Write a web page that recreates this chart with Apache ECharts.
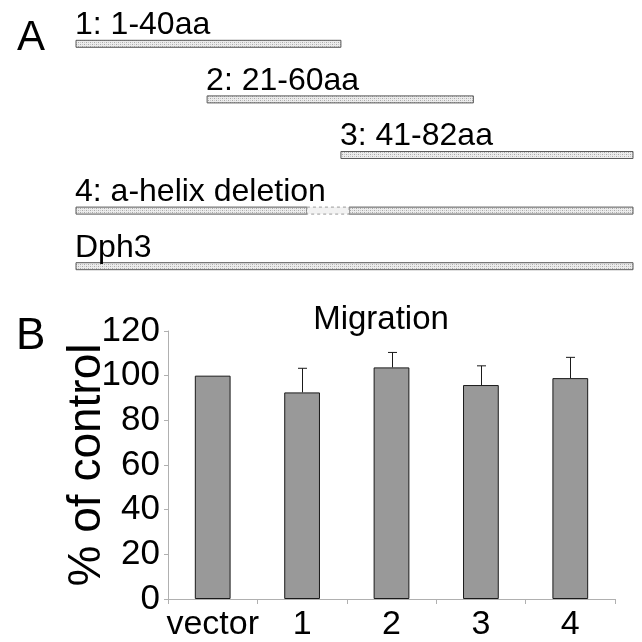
<!DOCTYPE html>
<html>
<head>
<meta charset="utf-8">
<script src="https://cdn.jsdelivr.net/npm/echarts@6/dist/echarts.min.js"></script>
<style>
  html, body { margin: 0; padding: 0; background: #fff; }
  #chart { width: 642px; height: 642px; }
</style>
</head>
<body>
<div id="chart"></div>
<script>
// Panel A: construct map (schematic residue units, 0..82)
const constructRows = ['1: 1-40aa', '2: 21-60aa', '3: 41-82aa', '4: a-helix deletion', 'Dph3'];
// [row, start, end] of drawn segments
const constructSegments = [
  [0, 0, 39],
  [1, 19.3, 58.5],
  [2, 39, 82],
  [3, 0, 34],
  [3, 40.2, 82],
  [4, 0, 82]
];
// deleted helix in construct 4 (drawn dashed)
const deletionSegments = [[3, 34, 40.2]];

// Panel B: migration
const categories = ['vector', '1', '2', '3', '4'];
const migration = [100, 92.5, 103.7, 95.8, 98.9];
const migrationErr = [0, 10.8, 6.7, 8.6, 9.3];
const yTicks = { min: 0, max: 120, interval: 20 };

const FONT = '"Liberation Sans", Arial, sans-serif';

// stipple fill for construct bars
const tile = document.createElement('canvas');
tile.width = 4; tile.height = 4;
(function () {
  const c = tile.getContext('2d');
  c.fillStyle = '#ececec';
  c.fillRect(0, 0, 4, 4);
  c.fillStyle = '#a8a8a8';
  c.fillRect(0, 0, 1, 1);
  c.fillRect(2, 2, 1, 1);
  c.fillStyle = '#c8c8c8';
  c.fillRect(2, 0, 1, 1);
  c.fillRect(0, 2, 1, 1);
})();
const stipple = { image: tile, repeat: 'repeat' };

const BAR_H = 7;

const chart = echarts.init(document.getElementById('chart'));

chart.setOption({
  animation: false,
  backgroundColor: '#fff',
  textStyle: { fontFamily: FONT },
  graphic: [
    { type: 'text', left: 17, top: 17, style: { text: 'A', font: '42px ' + FONT, fill: '#000' } },
    { type: 'text', left: 16, top: 315, style: { text: 'B', font: '44px ' + FONT, fill: '#000' } }
  ],
  title: {
    text: 'Migration',
    left: 376,
    textAlign: 'center',
    top: 298,
    textStyle: { fontFamily: FONT, fontSize: 33, fontWeight: 'normal', color: '#000' }
  },
  grid: [
    { left: 76, width: 557, top: 16, height: 278 },
    { left: 168, right: 27, top: 331, bottom: 43 }
  ],
  xAxis: [
    { gridIndex: 0, type: 'value', min: 0, max: 82, show: false },
    {
      gridIndex: 1,
      type: 'category',
      data: categories,
      axisLine: { lineStyle: { color: '#b0b0b0', width: 1 } },
      axisTick: { show: true, length: 5, lineStyle: { color: '#b0b0b0' } },
      axisLabel: { interval: 0, color: '#000', fontSize: 34, fontFamily: FONT, margin: 9 }
    }
  ],
  yAxis: [
    { gridIndex: 0, type: 'category', data: constructRows, inverse: true, show: false },
    {
      gridIndex: 1,
      type: 'value',
      min: yTicks.min,
      max: yTicks.max,
      interval: yTicks.interval,
      name: '% of control',
      nameLocation: 'middle',
      nameGap: 58,
      nameMoveOverlap: false,
      nameTextStyle: { color: '#000', fontSize: 46, fontFamily: FONT },
      axisLine: { show: true, lineStyle: { color: '#b0b0b0', width: 1 } },
      axisTick: { show: true, length: 4, lineStyle: { color: '#b0b0b0' } },
      axisLabel: { color: '#000', fontSize: 35, fontFamily: FONT, margin: 8 },
      splitLine: { show: false }
    }
  ],
  series: [
    {
      type: 'custom',
      xAxisIndex: 0,
      yAxisIndex: 0,
      data: constructSegments,
      renderItem: function (params, api) {
        const row = api.value(0);
        const p0 = api.coord([api.value(1), row]);
        const p1 = api.coord([api.value(2), row]);
        const top = p0[1] - BAR_H / 2;
        const children = [{
          type: 'rect',
          shape: { x: p0[0], y: top, width: p1[0] - p0[0], height: BAR_H },
          style: { fill: stipple, stroke: '#5a5a5a', lineWidth: 1 }
        }];
        // label above the first segment of each row
        const first = constructSegments.findIndex(s => s[0] === row);
        if (first === params.dataIndex) {
          children.push({
            type: 'text',
            x: p0[0] - 1,
            y: top + 1,
            style: {
              text: constructRows[row],
              font: '32px ' + FONT,
              fill: '#000',
              textAlign: 'left',
              textVerticalAlign: 'bottom'
            }
          });
        }
        return { type: 'group', children: children };
      }
    },
    {
      type: 'custom',
      xAxisIndex: 0,
      yAxisIndex: 0,
      data: deletionSegments,
      renderItem: function (params, api) {
        const row = api.value(0);
        const p0 = api.coord([api.value(1), row]);
        const p1 = api.coord([api.value(2), row]);
        return {
          type: 'rect',
          shape: { x: p0[0], y: p0[1] - BAR_H / 2, width: p1[0] - p0[0], height: BAR_H },
          style: { fill: '#f2f2f2', stroke: '#9a9a9a', lineWidth: 1, lineDash: [3, 3] }
        };
      }
    },
    {
      type: 'bar',
      xAxisIndex: 1,
      yAxisIndex: 1,
      data: migration,
      barWidth: '40%',
      itemStyle: { color: '#999999', borderColor: '#1a1a1a', borderWidth: 1 }
    },
    {
      type: 'custom',
      xAxisIndex: 1,
      yAxisIndex: 1,
      data: migration.map((v, i) => [i, v, migrationErr[i]]),
      z: 5,
      renderItem: function (params, api) {
        const err = api.value(2);
        if (!err) return null;
        const top = api.coord([api.value(0), api.value(1)]);
        const hi = api.coord([api.value(0), api.value(1) + err]);
        const x = Math.round(top[0]) + 0.5;
        return {
          type: 'group',
          children: [
            { type: 'line', shape: { x1: x, y1: top[1], x2: x, y2: hi[1] }, style: { stroke: '#1a1a1a', lineWidth: 1 } },
            { type: 'line', shape: { x1: x - 4.5, y1: hi[1], x2: x + 4.5, y2: hi[1] }, style: { stroke: '#1a1a1a', lineWidth: 1 } }
          ]
        };
      }
    }
  ]
});
</script>
</body>
</html>
